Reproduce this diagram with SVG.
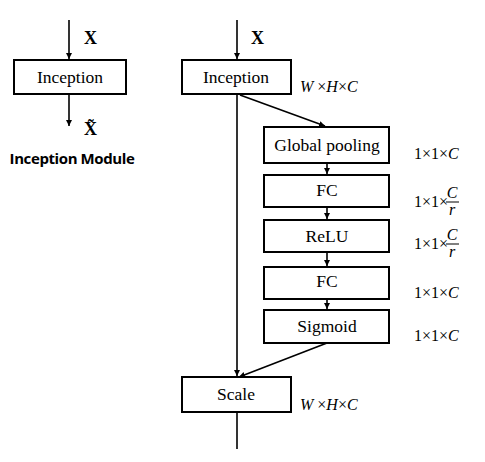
<svg xmlns="http://www.w3.org/2000/svg" width="485" height="462" viewBox="0 0 485 462">
<defs>
<marker id="ah" viewBox="0 0 10 10" refX="10" refY="5" markerWidth="6" markerHeight="6" orient="auto" markerUnits="userSpaceOnUse">
<path d="M0,0 L10,5 L0,10 z" fill="#000"/>
</marker>
<style>
.box{fill:#fff;stroke:#000;stroke-width:2}
.t{font-family:'Liberation Serif','Times New Roman',serif;font-size:17.5px;fill:#000;text-anchor:middle}
.x{font-family:'Liberation Serif','Times New Roman',serif;font-size:18px;font-weight:bold;fill:#000}
.d{font-family:'Liberation Serif','Times New Roman',serif;font-size:16px;fill:#000}
.i{font-style:italic}
.c line{stroke:#000;stroke-width:1.6;fill:none}
</style>
</defs>
<rect width="485" height="462" fill="#fff"/>
<g class="c" id="connectors">
<line x1="69" y1="20" x2="69" y2="59" marker-end="url(#ah)"/>
<line x1="69" y1="94" x2="69" y2="126" marker-end="url(#ah)"/>
<line x1="237" y1="20" x2="237" y2="59" marker-end="url(#ah)"/>
<line x1="237" y1="94" x2="237" y2="376" marker-end="url(#ah)"/>
<line x1="240" y1="95" x2="325" y2="126" marker-end="url(#ah)"/>
<line x1="327" y1="163" x2="327" y2="174" marker-end="url(#ah)"/>
<line x1="327" y1="207" x2="327" y2="219" marker-end="url(#ah)"/>
<line x1="327" y1="252" x2="327" y2="266" marker-end="url(#ah)"/>
<line x1="327" y1="299" x2="327" y2="309" marker-end="url(#ah)"/>
<line x1="327" y1="343" x2="239" y2="377" marker-end="url(#ah)"/>
<line x1="237" y1="412" x2="237" y2="449"/>
</g>
<g id="left-x"><text class="x" x="84" y="44">X</text></g>
<g id="left-inception"><rect class="box" x="14" y="60" width="112" height="34"/><text class="t" x="70" y="83">Inception</text></g>
<g id="left-xt"><text class="x" x="84" y="135">X̃</text></g>
<g id="title"><text x="72" y="164" font-family="Open Sans, Liberation Sans, sans-serif" font-size="15" font-weight="bold" letter-spacing="-0.4" text-anchor="middle">Inception Module</text></g>

<g id="right-x"><text class="x" x="251" y="44">X</text></g>
<g id="inception"><rect class="box" x="182" y="60" width="109" height="34"/><text class="t" x="236" y="83">Inception</text></g>
<g id="dim1"><text class="d" x="300" y="92"><tspan class="i">W</tspan> ×<tspan class="i">H</tspan>×<tspan class="i">C</tspan></text></g>
<g id="gpool"><rect class="box" x="264" y="127" width="125" height="36"/><text class="t" x="327" y="151">Global pooling</text></g>
<g id="fc1"><rect class="box" x="264" y="175" width="125" height="32"/><text class="t" x="327" y="196">FC</text></g>
<g id="relu"><rect class="box" x="264" y="220" width="125" height="32"/><text class="t" x="327" y="242">ReLU</text></g>
<g id="fc2"><rect class="box" x="264" y="267" width="125" height="32"/><text class="t" x="327" y="287">FC</text></g>
<g id="sigmoid"><rect class="box" x="264" y="310" width="125" height="33"/><text class="t" x="327" y="332">Sigmoid</text></g>
<g id="scale"><rect class="box" x="182" y="377" width="109" height="35"/><text class="t" x="236" y="400">Scale</text></g>
<g id="dim2"><text class="d" x="414" y="159">1×1×<tspan class="i">C</tspan></text></g>
<g id="dim3"><text class="d" x="414" y="207">1×1×</text><text class="d i" x="452" y="198" text-anchor="middle">C</text><line x1="446" y1="202" x2="459" y2="202" stroke="#000" stroke-width="1"/><text class="d i" x="452" y="215" text-anchor="middle">r</text></g>
<g id="dim4"><text class="d" x="414" y="249">1×1×</text><text class="d i" x="452" y="240" text-anchor="middle">C</text><line x1="446" y1="244" x2="459" y2="244" stroke="#000" stroke-width="1"/><text class="d i" x="452" y="257" text-anchor="middle">r</text></g>
<g id="dim5"><text class="d" x="414" y="298">1×1×<tspan class="i">C</tspan></text></g>
<g id="dim6"><text class="d" x="414" y="341">1×1×<tspan class="i">C</tspan></text></g>
<g id="dim7"><text class="d" x="300" y="410"><tspan class="i">W</tspan> ×<tspan class="i">H</tspan>×<tspan class="i">C</tspan></text></g>
</svg>
